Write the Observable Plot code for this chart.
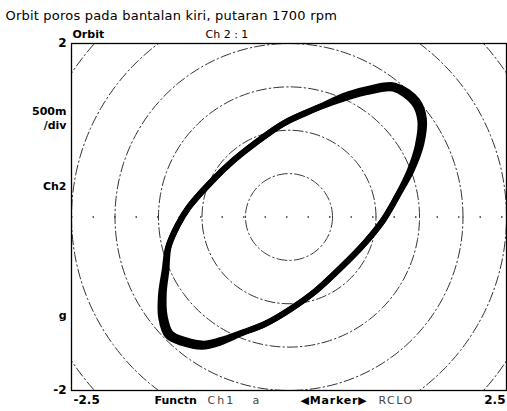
<!DOCTYPE html>
<html>
<head>
<meta charset="utf-8">
<script src="https://cdn.jsdelivr.net/npm/d3@7"></script>
<script src="https://cdn.jsdelivr.net/npm/@observablehq/plot@0.6"></script>
<style>
  html, body { margin: 0; padding: 0; background: #fff; }
  #chart svg { display: block; }
  .sp-title text { letter-spacing: 0.2px; }
  .sp-2 text { letter-spacing: 2px; }
  .sp-15 text { letter-spacing: 1.5px; }
  .sp-08 text { letter-spacing: 0.8px; }
</style>
</head>
<body>
<div id="chart"></div>
<script>
// ---- data ----
const title = "Orbit poros pada bantalan kiri, putaran 1700 rpm";
const xTicks = [-2.5, 2.5];
const yTicks = [2, -2];
const gridRadii = [0.5, 1, 1.5, 2, 2.5, 3];
// orbit traces (Ch1 on x, Ch2 on y, 500m/div), two revolutions
const orbitX1 = [1.20, 1.44, 1.51, 1.48, 1.39, 1.25, 1.08, 0.88, 0.59, 0.31, 0.02, -0.27, -0.56, -0.79, -0.98, -1.19, -1.36, -1.43, -1.44, -1.41, -1.385, -1.282, -1.155, -0.90, -0.64, -0.35, -0.06, 0.31, 0.67, 0.94];
const orbitY1 = [1.48, 1.31, 1.11, 0.82, 0.54, 0.25, -0.04, -0.29, -0.59, -0.85, -1.06, -1.23, -1.34, -1.42, -1.46, -1.42, -1.34, -1.14, -0.88, -0.62, -0.35, -0.10, 0.11, 0.40, 0.65, 0.88, 1.08, 1.25, 1.38, 1.45];
const orbitX2 = [1.215, 1.475, 1.55, 1.52, 1.41, 1.25, 1.08, 0.88, 0.59, 0.31, 0.02, -0.27, -0.56, -0.797, -1.00, -1.22, -1.395, -1.47, -1.47, -1.43, -1.39, -1.282, -1.155, -0.90, -0.64, -0.35, -0.06, 0.31, 0.67, 0.945];
const orbitY2 = [1.515, 1.34, 1.13, 0.84, 0.54, 0.25, -0.04, -0.29, -0.59, -0.85, -1.06, -1.23, -1.347, -1.45, -1.495, -1.455, -1.37, -1.155, -0.887, -0.62, -0.35, -0.10, 0.11, 0.40, 0.65, 0.88, 1.08, 1.25, 1.41, 1.485];
const topLabels = ["Orbit", "Ch 2 : 1"];
const leftLabels = ["500m\n/div", "Ch2", "g"];
const bottomLabels = ["Functn", "Ch1", "a", "◀Marker▶", "RCLO"];

// ---- derived tables ----
const orbit = [
  ...orbitX1.map((x, i) => ({rev: 1, x, y: orbitY1[i]})),
  ...orbitX2.map((x, i) => ({rev: 2, x, y: orbitY2[i]}))
];
const circles = gridRadii.flatMap(r =>
  d3.range(0, 361, 2).map(a => ({r, x: r * Math.cos(a * Math.PI / 180), y: r * Math.sin(a * Math.PI / 180)}))
);

const font = "DejaVu Sans, sans-serif";
const lbl = (text, anchor, dx, dy, extra = {}) =>
  Plot.text([text], {frameAnchor: anchor, lineAnchor: "middle", dx, dy, fontSize: 11, ...extra});

const chart = Plot.plot({
  width: 507,
  height: 411,
  marginLeft: 71,
  marginRight: 1,
  marginTop: 43,
  marginBottom: 21,
  style: {fontFamily: font, background: "#fff", color: "#000"},
  x: {domain: [-2.5, 2.5], axis: null},
  y: {domain: [-2, 2], axis: null},
  marks: [
    Plot.ruleY([0], {stroke: "#333", strokeWidth: 1.5, strokeDasharray: "1.5,20"}),
    Plot.line(circles, {x: "x", y: "y", z: "r", stroke: "#333", strokeWidth: 1, strokeDasharray: "10,3,1.5,3", clip: true}),
    Plot.line(orbit, {x: "x", y: "y", z: "rev", curve: "catmull-rom-closed", stroke: "#000", strokeWidth: 6, clip: true}),
    Plot.frame({stroke: "#000", strokeWidth: 1.3}),
    // tick labels
    Plot.text([xTicks[0]], {x: d => d, y: -2, text: d => String(d), textAnchor: "start", lineAnchor: "middle", dx: 2, dy: 10, fontSize: 12, fontWeight: "bold"}),
    Plot.text([xTicks[1]], {x: d => d, y: -2, text: d => String(d), textAnchor: "end", lineAnchor: "middle", dx: -1, dy: 10, fontSize: 12, fontWeight: "bold"}),
    Plot.text(yTicks, {x: -2.5, y: d => d, text: d => String(d), textAnchor: "end", lineAnchor: "middle", dx: -5, fontSize: 12, fontWeight: "bold"}),
    // title
    lbl(title, "top-left", -66, -28, {textAnchor: "start", fontSize: 13, className: "sp-title"}),
    // top labels
    lbl(topLabels[0], "top-left", 1, -9, {textAnchor: "start", fontWeight: "bold"}),
    lbl(topLabels[1], "top-left", 134, -9, {textAnchor: "start"}),
    // left labels
    lbl(leftLabels[0], "top-left", -5, 74, {textAnchor: "end", fontWeight: "bold", lineHeight: 1.25}),
    lbl(leftLabels[1], "top-left", -5, 143, {textAnchor: "end", fontWeight: "bold"}),
    lbl(leftLabels[2], "top-left", -5, 272, {textAnchor: "end", fontWeight: "bold"}),
    // bottom labels
    lbl(bottomLabels[0], "bottom-left", 83, 10, {textAnchor: "start", fontWeight: "bold"}),
    lbl(bottomLabels[1], "bottom-left", 136, 10, {textAnchor: "start", fill: "#444", className: "sp-2"}),
    lbl(bottomLabels[2], "bottom-left", 181, 10, {textAnchor: "start", fill: "#444"}),
    lbl(bottomLabels[3], "bottom-left", 229, 10, {textAnchor: "start", fontWeight: "bold", className: "sp-08"}),
    lbl(bottomLabels[4], "bottom-left", 307, 10, {textAnchor: "start", fill: "#444", className: "sp-15"})
  ]
});
document.getElementById("chart").appendChild(chart);
</script>
</body>
</html>
